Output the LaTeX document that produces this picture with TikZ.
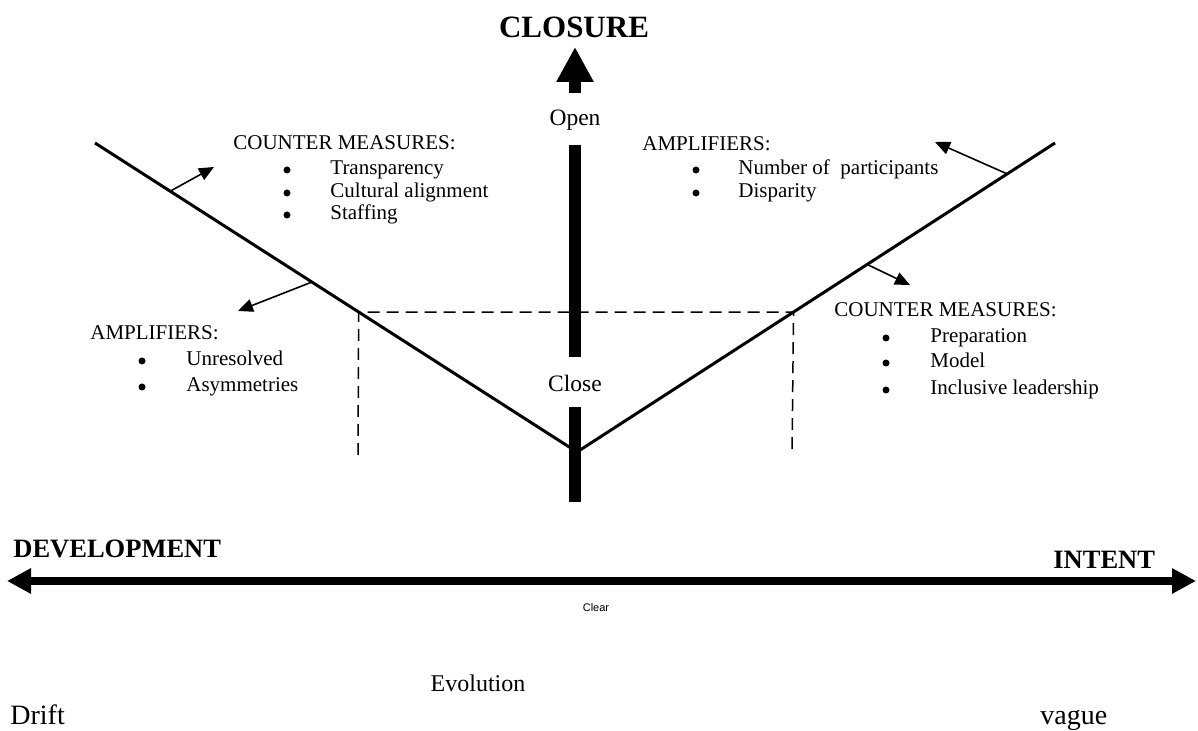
\documentclass[tikz,border=0pt]{standalone}
\usepackage{fontspec}
\setmainfont{Liberation Serif}
\newfontfamily\clearfont{Liberation Sans}
\usetikzlibrary{
  arrows.meta,
  calc,
  positioning,
}
\tikzset{
  vline/.style={line width=1.5pt},
  guide/.style={line width=0.75pt, dash pattern=on 6pt off 3.5pt},
  bar/.style={line width=6pt},
  pointer/.style={line width=0.8pt, -{Triangle[width=6.5pt,length=7.5pt]}},
  listtext/.style={font=\fontsize{10.5}{12}\selectfont, anchor=west, inner sep=0pt,
    text height=0.7em, text depth=0.25em},
  dot/.style={circle, fill, inner sep=0pt, minimum size=3.5pt},
  axislabel/.style={font=\bfseries\fontsize{13.25}{15}\selectfont, anchor=west, inner sep=0pt},
}

\begin{document}
\begin{tikzpicture}[x=0.5pt,y=-0.5pt]

        \useasboundingbox (0,0) rectangle (1198,731);

        % the V
        \coordinate (vl) at (95,143);
        \coordinate (vb) at (577,452);
        \coordinate (vr) at (1055,143);
        \draw [vline] (vl) -- (vb) -- (vr);

        % dashed frame
        \coordinate (dl) at ($(vl)!0.547!(vb)$);
        \coordinate (dr) at ($(vr)!0.547!(vb)$);
        \coordinate (dlb) at (358,455);
        \coordinate (drb) at (792,455);
        \draw [guide] (dlb) -- (dl) -- (dr) -- (drb);

        % closure bar
        \node [font=\bfseries\fontsize{15.5}{18}\selectfont, inner sep=0pt] (closure) at (574,27) {CLOSURE};
        \node [font=\fontsize{11.75}{14}\selectfont, inner sep=0pt] (open) at (575,120) {Open};
        \node [font=\fontsize{11.75}{14}\selectfont, inner sep=0pt] (close) at (575,383) {Close};
        \coordinate (upbase) at (575,93);
        \coordinate (uptip) at (575,47);
        \draw [bar, -{Triangle[width=17.5pt,length=17.5pt]}] (upbase) -- (uptip);
        \coordinate (bar1a) at (575,145);
        \coordinate (bar1b) at (575,357);
        \coordinate (bar2a) at (575,407);
        \coordinate (bar2b) at (575,502);
        \draw [bar] (bar1a) -- (bar1b);
        \draw [bar] (bar2a) -- (bar2b);

        % small arrows off the V
        \coordinate (ul) at ($(vl)!0.156!(vb)$);
        \coordinate (ll) at ($(vl)!0.45!(vb)$);
        \coordinate (ur) at ($(vr)!0.1!(vb)$);
        \coordinate (lr) at ($(vr)!0.393!(vb)$);
        \coordinate (ultip) at (214,167);
        \coordinate (lltip) at (238,311);
        \coordinate (urtip) at (935,142);
        \coordinate (lrtip) at (910,285);
        \draw [pointer] (ul) -- (ultip);
        \draw [pointer] (ll) -- (lltip);
        \draw [pointer] (ur) -- (urtip);
        \draw [pointer] (lr) -- (lrtip);

        % upper left
        \node [listtext] (cmleft) at (233,145) {COUNTER MEASURES:};
        \foreach \y/\t [count=\i] in {170/Transparency, 193/Cultural alignment, 215/Staffing} {
          \node [dot] (cmleftb\i) at (287,\y) {};
          \node [listtext] (cmleft\i) at (330,\y) {\t};
        }

        % upper right
        \node [listtext] (ampright) at (642,146) {AMPLIFIERS:};
        \foreach \y/\t [count=\i] in {170/Number of\ \ participants, 193/Disparity} {
          \node [dot] (amprightb\i) at (696,\y) {};
          \node [listtext] (ampright\i) at (738,\y) {\t};
        }

        % lower left
        \node [listtext] (ampleft) at (90,335) {AMPLIFIERS:};
        \foreach \y/\t [count=\i] in {361/Unresolved, 387/Asymmetries} {
          \node [dot] (ampleftb\i) at (142,\y) {};
          \node [listtext] (ampleft\i) at (186,\y) {\t};
        }

        % lower right
        \node [listtext] (cmright) at (834,312) {COUNTER MEASURES:};
        \foreach \y/\t [count=\i] in {338/Preparation, 363/Model, 390/Inclusive leadership} {
          \node [dot] (cmrightb\i) at (886,\y) {};
          \node [listtext] (cmright\i) at (930,\y) {\t};
        }

        % development -- intent axis
        \node [axislabel] (dev) at (13,549) {DEVELOPMENT};
        \node [axislabel] (intent) at (1053,560) {INTENT};
        \coordinate (axl) at (7,581);
        \coordinate (axr) at (1196,581);
        \draw [line width=4pt, {Triangle[width=12pt,length=12pt]}-{Triangle[width=12pt,length=12pt]}] (axl) -- (axr);
        \node [font=\clearfont\fontsize{5.5}{7}\selectfont, inner sep=0pt] (clear) at (596,608) {Clear};

        \node [font=\fontsize{12}{14}\selectfont, anchor=base, inner sep=0pt] (evol) at (478,691) {Evolution};
        \node [font=\fontsize{14}{16}\selectfont, anchor=base west, inner sep=0pt] (drift) at (10,724) {Drift};
        \node [font=\fontsize{14}{16}\selectfont, anchor=base west, inner sep=0pt] (vague) at (1040,724) {vague};
      \end{tikzpicture}
\end{document}
